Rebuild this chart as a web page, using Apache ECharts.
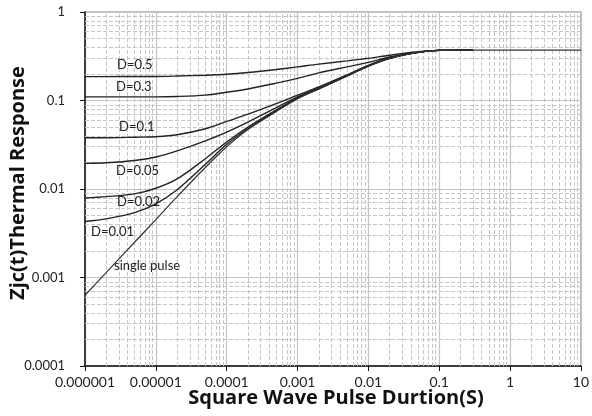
<!DOCTYPE html>
<html>
<head>
<meta charset="utf-8">
<script src="https://cdn.jsdelivr.net/npm/echarts@6/dist/echarts.min.js"></script>
<style>html,body{margin:0;padding:0;background:#fff}#c{width:592px;height:416px}</style>
</head>
<body>
<div id="c"></div>
<script>
// Pulse durations (s)
const times = [1e-6, 2e-6, 5e-6, 1e-5, 2e-5, 5e-5, 1e-4, 2e-4, 5e-4, 1e-3, 2e-3, 5e-3, 1e-2, 2e-2, 5e-2, 0.1, 0.3, 10];
// Thermal response per duty cycle ('-' = no point)
const d05 = [0.186, 0.186, 0.187, 0.187, 0.189, 0.193, 0.198, 0.207, 0.224, 0.240, 0.258, 0.280, 0.300, 0.325, 0.355, 0.368, 0.370, '-'];
const d03 = [0.110, 0.110, 0.110, 0.110, 0.111, 0.115, 0.124, 0.135, 0.157, 0.178, 0.205, 0.240, 0.270, 0.310, 0.350, 0.368, 0.370, '-'];
const d01 = [0.038, 0.038, 0.0385, 0.039, 0.041, 0.048, 0.058, 0.070, 0.092, 0.115, 0.142, 0.195, 0.250, 0.302, 0.350, 0.368, 0.370, '-'];
const d005 = [0.0195, 0.0198, 0.021, 0.023, 0.027, 0.035, 0.044, 0.057, 0.083, 0.110, 0.138, 0.192, 0.247, 0.300, 0.350, 0.368, 0.370, '-'];
const d002 = [0.0079, 0.0082, 0.0088, 0.0102, 0.013, 0.022, 0.034, 0.050, 0.078, 0.107, 0.136, 0.190, 0.245, 0.300, 0.350, 0.368, 0.370, '-'];
const d001 = [0.0043, 0.0046, 0.0054, 0.0068, 0.0098, 0.019, 0.032, 0.048, 0.076, 0.106, 0.135, 0.190, 0.245, 0.300, 0.350, 0.368, 0.370, '-'];
const single = [0.00063, 0.00114, 0.0025, 0.0045, 0.0082, 0.0175, 0.030, 0.047, 0.075, 0.105, 0.135, 0.190, 0.245, 0.300, 0.350, 0.368, 0.370, 0.370];
const curveNames = ['D=0.5', 'D=0.3', 'D=0.1', 'D=0.05', 'D=0.02', 'D=0.01', 'single pulse'];
const curveValues = [d05, d03, d01, d005, d002, d001, single];
// Axis ticks (decades)
const xTicks = ['0.000001', '0.00001', '0.0001', '0.001', '0.01', '0.1', '1', '10'];
const yTicks = ['0.0001', '0.001', '0.01', '0.1', '1'];
const xTitle = 'Square Wave Pulse Durtion(S)';
const yTitle = 'Zjc(t)Thermal Response';

const FONT = 'Lato, "Open Sans", sans-serif';
const TFONT = '"Open Sans", Lato, sans-serif';
const chart = echarts.init(document.getElementById('c'), null, {renderer: 'canvas'});

// axes are drawn in decade (log10) space
const lg = v => Math.log10(v);
function minorLines(axisKey, fromExp, toExp) {
  const out = [];
  for (let e = fromExp; e < toExp; e++) {
    for (let k = 2; k <= 9; k++) {
      const o = {}; o[axisKey] = e + Math.log10(k); out.push(o);
    }
  }
  return out;
}
function fmt(e) {
  e = Math.round(e);
  return e >= 0 ? String(Math.pow(10, e)) : Math.pow(10, e).toFixed(-e);
}

const series = [{
  type: 'line', data: [], z: 1, silent: true,
  markLine: {
    silent: true, symbol: 'none', animation: false, z: 1,
    label: {show: false},
    lineStyle: {color: '#c6c6c6', width: 1, type: [4, 2]},
    data: minorLines('xAxis', lg(1e-6), lg(10)).concat(minorLines('yAxis', lg(1e-4), lg(1)))
  }
}];
curveValues.forEach((vals, i) => {
  series.push({
    name: curveNames[i], type: 'line', z: 6,
    data: times.map((t, j) => [lg(t), vals[j] === '-' ? '-' : lg(vals[j])]),
    smooth: 0.3, showSymbol: false, symbol: 'none', connectNulls: false,
    lineStyle: {color: i === 6 ? '#333' : '#222', width: i === 6 ? 1.2 : 1.4},
    animation: false
  });
});

const labelPos = [[117, 66], [116, 88], [119, 128], [116, 172], [117, 203], [91, 233], [114, 267]];
const graphics = curveNames.map((n, i) => ({
  type: 'text', left: labelPos[i][0], top: labelPos[i][1] - 8, z: 10,
  style: {text: n, fill: '#222', font: '13px ' + FONT}
}));
graphics.push({
  type: 'text', x: 336, y: 398, z: 10,
  style: {text: xTitle, fill: '#111', font: 'bold 20px ' + TFONT, align: 'center', verticalAlign: 'middle'}
});
graphics.push({
  type: 'text', x: 18, y: 183, rotation: Math.PI / 2, z: 10,
  style: {text: yTitle, fill: '#111', font: 'bold 20px ' + TFONT, align: 'center', verticalAlign: 'middle'}
});

chart.setOption({
  animation: false,
  backgroundColor: '#fff',
  grid: {left: 85, right: 10, top: 12, bottom: 50, show: true, borderColor: '#aaa', borderWidth: 1.5},
  xAxis: {
    type: 'value', min: lg(1e-6), max: lg(10), interval: 1,
    axisLine: {show: true, onZero: false, lineStyle: {color: '#111', width: 1.5}},
    axisTick: {show: true, length: 5, lineStyle: {color: '#111'}},
    axisLabel: {margin: 9, color: '#222', fontSize: 14, fontFamily: FONT,
      formatter: v => { const s = fmt(v); return xTicks.includes(s) ? s : ''; }},
    splitLine: {show: true, lineStyle: {color: '#c4c4c4', width: 1.2}}
  },
  yAxis: {
    type: 'value', min: lg(1e-4), max: lg(1), interval: 1,
    axisLine: {show: true, onZero: false, lineStyle: {color: '#111', width: 1.5}},
    axisTick: {show: true, length: 5, lineStyle: {color: '#111'}},
    axisLabel: {margin: 20, color: '#222', fontSize: 13, fontFamily: FONT,
      formatter: v => { const s = fmt(v); return yTicks.includes(s) ? s : ''; }},
    splitLine: {show: true, lineStyle: {color: '#c4c4c4', width: 1.2}}
  },
  series: series,
  graphic: graphics
});
</script>
</body>
</html>
